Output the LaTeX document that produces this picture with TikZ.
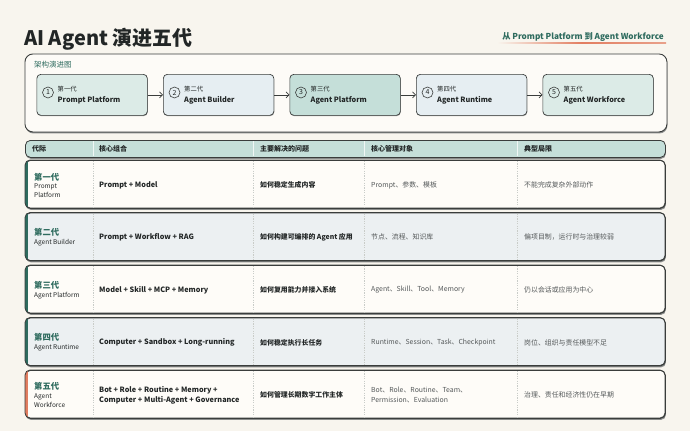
\documentclass[tikz,border=0pt]{standalone}
\usepackage{fontspec}
\setmainfont{Noto Sans CJK SC}
\usetikzlibrary{arrows.meta,shadows}
\definecolor{bg}{HTML}{F8F5EE}
\definecolor{panel}{HTML}{FDFBF7}
\definecolor{ln}{HTML}{3A3D3C}
\definecolor{teal1}{HTML}{2E6B5E}
\definecolor{hdr}{HTML}{C5DFD9}
\definecolor{bxa}{HTML}{DCEBE7}
\definecolor{bxb}{HTML}{E6EEF2}
\definecolor{rowc}{HTML}{FEFCF8}
\definecolor{rowb}{HTML}{ECF0F2}
\definecolor{accent}{HTML}{E27D60}
\definecolor{txt}{HTML}{222626}
\definecolor{gtxt}{HTML}{55595A}
\definecolor{sepc}{HTML}{C9CCC8}
\definecolor{shc}{HTML}{8A8C8B}
\tikzset{
  sh/.style={drop shadow={shadow xshift=0.5pt, shadow yshift=-1.5pt, fill=shc, opacity=1}},
  panelbox/.style={draw=ln, line width=0.9pt, rounded corners=8pt, fill=panel, anchor=north west, inner sep=0pt, minimum width=642pt, minimum height=78pt, sh},
  pbox/.style={draw=ln, line width=0.7pt, rounded corners=4pt, anchor=north west, inner sep=0pt, minimum width=110.5pt, minimum height=41pt, drop shadow={shadow xshift=0.4pt, shadow yshift=-0.8pt, fill=shc, opacity=0.8}},
  numc/.style={circle, draw=ln, line width=0.6pt, minimum size=11pt, inner sep=0pt, text=txt, font=\fontsize{7}{8}\selectfont},
  gsmall/.style={anchor=west, inner sep=0pt, text=txt, font=\fontsize{6.3}{7}\selectfont},
  gname/.style={anchor=west, inner sep=0pt, text=txt, font=\fontsize{7.3}{8}\selectfont\bfseries},
  arr/.style={draw=ln, line width=0.7pt, -{Straight Barb[length=3pt,width=6pt]}},
  hdrbox/.style={draw=ln, line width=0.8pt, rounded corners=5pt, fill=hdr, anchor=north west, inner sep=0pt, minimum width=640pt, minimum height=17pt, sh},
  rowbox/.style={draw=ln, line width=0.8pt, rounded corners=5pt, anchor=north west, inner sep=0pt, minimum width=640pt, minimum height=48pt, sh},
  htxt/.style={anchor=west, inner sep=0pt, text=txt, font=\fontsize{7}{8}\selectfont\bfseries},
  gentxt/.style={anchor=west, inner sep=0pt, text=teal1, font=\fontsize{8.3}{9}\selectfont\bfseries},
  subtxt/.style={anchor=west, inner sep=0pt, text=txt, font=\fontsize{6.5}{7.5}\selectfont},
  combtxt/.style={anchor=west, inner sep=0pt, text=txt, font=\fontsize{7.3}{8}\selectfont\bfseries},
  qtxt/.style={anchor=west, inner sep=0pt, text=txt, font=\fontsize{6.9}{8}\selectfont\bfseries},
  otxt/.style={anchor=west, inner sep=0pt, text=gtxt, font=\fontsize{6.9}{8}\selectfont},
  sepline/.style={draw=sepc, line width=0.4pt, dash pattern=on 1.2pt off 1.2pt},
  hsep/.style={draw=white!75!hdr, line width=0.5pt}
}
\begin{document}
\begin{tikzpicture}[x=1pt,y=-1pt]
\fill[bg] (0,0) rectangle (690,431);
\useasboundingbox (0,0) rectangle (690,431);

% title
\node[anchor=base west, inner sep=0pt, text=txt, font=\fontsize{20}{24}\selectfont\bfseries] (title) at (24,45) {AI Agent 演进五代};
\shade[left color=bg, right color=bg!30!accent, middle color=accent] (497,42.4) rectangle (666,43.8);
\node[anchor=east, inner sep=0pt, text=teal1, font=\fontsize{8.2}{10}\selectfont\bfseries] (subtitle) at (664,37) {从 Prompt Platform 到 Agent Workforce};

% panel
\node[panelbox] (panel) at (24.5,53.5) {};
\node[anchor=west, inner sep=0pt, text=teal1, font=\fontsize{7.5}{9}\selectfont] (plabel) at (34,65) {架构演进图};

\foreach \i/\g/\n/\f in {1/第一代/Prompt Platform/bxa, 2/第二代/Agent Builder/bxb, 3/第三代/Agent Platform/hdr, 4/第四代/Agent Runtime/bxb, 5/第五代/Agent Workforce/bxa}{
  \pgfmathsetmacro{\xo}{36.5+126.5*(\i-1)}
  \node[pbox, fill=\f] (p\i) at (\xo,74) {};
  \node[numc] (c\i) at (\xo+11.5,92.5) {\i};
  \node[gsmall] (g\i) at (\xo+21,89) {\g};
  \node[gname] (t\i) at (\xo+21,100) {\n};
}
\foreach \i/\j in {1/2,2/3,3/4,4/5}{
  \draw[arr] (p\i.east) -- (p\j.west);
}

% table header
\node[hdrbox] (hdr) at (25,140) {};
\foreach \x in {93,253,364,517}{ \draw[hsep] (\x,141) -- (\x,156); }
\node[htxt] (h1) at (32,148.5) {代际};
\node[htxt] (h2) at (99,148.5) {核心组合};
\node[htxt] (h3) at (260,148.5) {主要解决的问题};
\node[htxt] (h4) at (371,148.5) {核心管理对象};
\node[htxt] (h5) at (524,148.5) {典型局限};

% rows
\foreach \i/\y/\f/\a in {1/160/rowc/teal1, 2/212.5/rowb/teal1, 3/265/rowc/teal1, 4/317.5/rowb/teal1, 5/370/rowc/accent}{
  \node[rowbox, fill=\f] (r\i) at (25,\y) {};
  \begin{scope}
    \clip[rounded corners=5pt] (25,\y) rectangle (665,\y+48);
    \fill[\a] (24,\y) rectangle (28,\y+48);
  \end{scope}
  \draw[ln, line width=0.8pt, rounded corners=5pt] (25,\y) rectangle (665,\y+48);
  \foreach \x in {93,253,364,517}{ \draw[sepline] (\x,\y+1) -- (\x,\y+47); }
}

% row 1
\node[gentxt] (a1) at (34,177) {第一代};
\node[subtxt] (b1) at (34,187) {Prompt};
\node[subtxt] (b1b) at (34,194.5) {Platform};
\node[combtxt] (k1) at (99,185) {Prompt + Model};
\node[qtxt] (q1) at (260,185) {如何稳定生成内容};
\node[otxt] (o1) at (371,185) {Prompt、参数、模板};
\node[otxt] (l1) at (524,185) {不能完成复杂外部动作};

% row 2
\node[gentxt] (a2) at (34,232.5) {第二代};
\node[subtxt] (b2) at (34,243) {Agent Builder};
\node[combtxt] (k2) at (99,237) {Prompt + Workflow + RAG};
\node[qtxt] (q2) at (260,237) {如何构建可编排的 Agent 应用};
\node[otxt] (o2) at (371,237) {节点、流程、知识库};
\node[otxt] (l2) at (524,237) {偏项目制，运行时与治理较弱};

% row 3
\node[gentxt] (a3) at (34,285.5) {第三代};
\node[subtxt] (b3) at (34,295.5) {Agent Platform};
\node[combtxt] (k3) at (99,290) {Model + Skill + MCP + Memory};
\node[qtxt] (q3) at (260,290) {如何复用能力并接入系统};
\node[otxt] (o3) at (371,290) {Agent、Skill、Tool、Memory};
\node[otxt] (l3) at (524,290) {仍以会话或应用为中心};

% row 4
\node[gentxt] (a4) at (34,337.5) {第四代};
\node[subtxt] (b4) at (34,348) {Agent Runtime};
\node[combtxt] (k4) at (99,342.5) {Computer + Sandbox + Long-running};
\node[qtxt] (q4) at (260,342.5) {如何稳定执行长任务};
\node[otxt] (o4) at (371,342.5) {Runtime、Session、Task、Checkpoint};
\node[otxt] (l4) at (524,342.5) {岗位、组织与责任模型不足};

% row 5
\node[gentxt] (a5) at (34,386.5) {第五代};
\node[subtxt] (b5) at (34,397) {Agent};
\node[subtxt] (b5b) at (34,404.5) {Workforce};
\node[combtxt] (k5) at (99,390) {Bot + Role + Routine + Memory +};
\node[combtxt] (k5b) at (99,400) {Computer + Multi-Agent + Governance};
\node[qtxt] (q5) at (260,395) {如何管理长期数字工作主体};
\node[otxt] (o5) at (371,390) {Bot、Role、Routine、Team、};
\node[otxt] (o5b) at (371,400) {Permission、Evaluation};
\node[otxt] (l5) at (524,395) {治理、责任和经济性仍在早期};
\end{tikzpicture}
\end{document}
